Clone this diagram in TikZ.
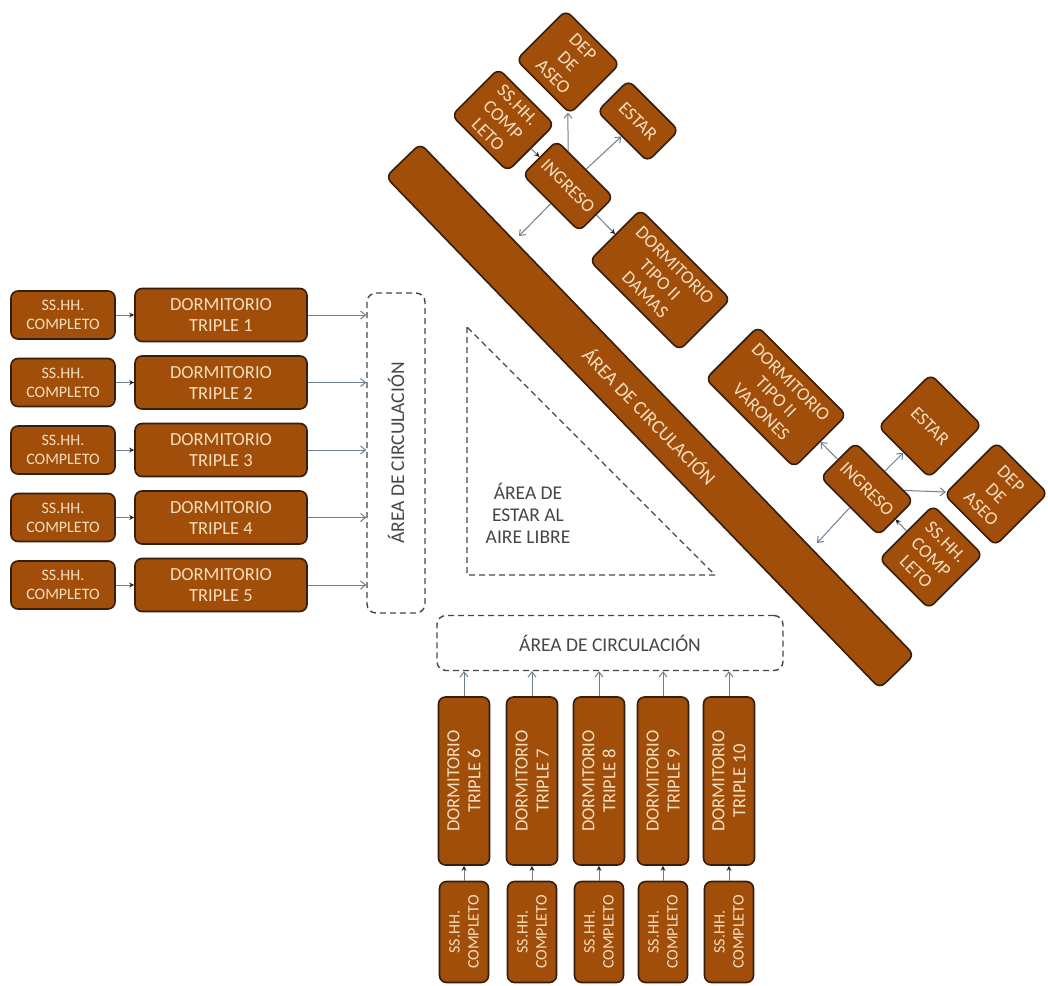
\documentclass[tikz,border=0pt]{standalone}
\usepackage{fontspec}
\setmainfont{Carlito}
\usetikzlibrary{arrows.meta}
\definecolor{roomfill}{RGB}{160,78,10}
\definecolor{roomedge}{RGB}{52,30,14}
\definecolor{roomtext}{RGB}{245,222,190}
\definecolor{linkgray}{RGB}{110,126,140}
\definecolor{dashgray}{RGB}{70,70,70}
\begin{document}
\begin{tikzpicture}
    [x=1pt,y=-1pt,
     room/.style={draw=roomedge,fill=roomfill,line width=1.6pt,rounded corners=7pt,
       text=roomtext,align=center,inner sep=1pt,font=\fontsize{18.5}{21}\selectfont},
     ssroom/.style={room,font=\fontsize{16}{19}\selectfont},
     circ/.style={draw=dashgray,line width=1.4pt,dash pattern=on 6pt off 4pt,
       rounded corners=9pt,text=dashgray,font=\fontsize{19.5}{22}\selectfont},
     link/.style={draw=linkgray,line width=1pt,-{Straight Barb[length=5pt,width=8pt]}},
     feed/.style={draw=linkgray,line width=1pt,-{Stealth[length=5pt,width=5pt,color=roomedge]}}]
    \useasboundingbox (0,0) rectangle (1048,985);
    % left wing
    \node [circ,rotate=90,minimum width=320,minimum height=58] (circL) at (396,453) {ÁREA DE CIRCULACIÓN};
    \foreach \i in {1,...,5} {
      \node [ssroom,minimum width=104,minimum height=48] (ss\i) at (63,{315+67.5*(\i-1)}) {SS.HH.\\COMPLETO};
      \node [room,minimum width=172,minimum height=53] (dt\i) at (221,{315+67.5*(\i-1)}) {DORMITORIO\\TRIPLE \i};
      \draw [feed] (ss\i) -- (dt\i);
      \draw [link] (dt\i) -- (dt\i -| circL.north);
    }
    % bottom wing
    \node [circ,minimum width=346,minimum height=55] (circB) at (610,643) {ÁREA DE CIRCULACIÓN};
    \foreach \n/\x in {6/464,7/532,8/599,9/663,10/729} {
      \node [room,rotate=90,minimum width=168,minimum height=51] (dtb\n) at (\x,781) {DORMITORIO\\TRIPLE \n};
      \node [ssroom,rotate=90,minimum width=101,minimum height=49] (ssb\n) at (\x,932) {SS.HH.\\COMPLETO};
      \draw [feed] (ssb\n) -- (dtb\n);
      \draw [link] (dtb\n) -- (dtb\n |- circB.south);
    }
    % open air area
    \draw [circ,rounded corners=0pt] (467,327) -- (467,575) -- (715,575) -- cycle;
    \node [text=dashgray,align=center,font=\fontsize{19.5}{22}\selectfont] (aire) at (528,513) {ÁREA DE\\ESTAR AL\\AIRE LIBRE};
    % diagonal wing
    \node [room,rotate=-46,minimum width=711,minimum height=48,font=\fontsize{19.5}{22}\selectfont] (bar) at (650,416) {ÁREA DE CIRCULACIÓN};
    \node [room,rotate=-45,minimum width=80,minimum height=48] (ing1) at (568,186) {INGRESO};
    \node [room,rotate=-45,minimum width=79,minimum height=66] (ssA) at (503,120) {SS.HH.\\COMP\\LETO};
    \node [room,rotate=-45,minimum width=76,minimum height=70] (depA) at (568,62) {DEP\\DE\\ASEO};
    \node [room,rotate=-45,minimum width=71,minimum height=44] (estA) at (638,121) {ESTAR};
    \node [room,rotate=-45,minimum width=127,minimum height=72] (dtA) at (660,280) {DORMITORIO\\TIPO II\\DAMAS};
    \coordinate (cA) at (519,236);
    \draw [feed] (ssA) -- (ing1);
    \draw [link] (ing1) -- (depA);
    \draw [link] (ing1) -- (estA);
    \draw [link] (ing1) -- (cA);
    \draw [feed] (ing1) -- (dtA);
    \node [room,rotate=-45,minimum width=125,minimum height=74] (dtB) at (776,397) {DORMITORIO\\TIPO II\\VARONES};
    \node [room,rotate=-45,minimum width=82,minimum height=49] (ing2) at (867,489) {INGRESO};
    \node [room,rotate=-45,minimum width=72,minimum height=74] (estB) at (930,426) {ESTAR};
    \node [room,rotate=-45,minimum width=72,minimum height=74] (depB) at (996,494) {DEP\\DE\\ASEO};
    \node [room,rotate=-45,minimum width=70,minimum height=76] (ssB) at (931,557) {SS.HH.\\COMP\\LETO};
    \coordinate (cB) at (817,543);
    \draw [link] (ing2) -- (dtB);
    \draw [link] (ing2) -- (estB);
    \draw [link] (ing2) -- (depB);
    \draw [feed] (ssB) -- (ing2);
    \draw [link] (ing2) -- (cB);
\end{tikzpicture}
\end{document}
